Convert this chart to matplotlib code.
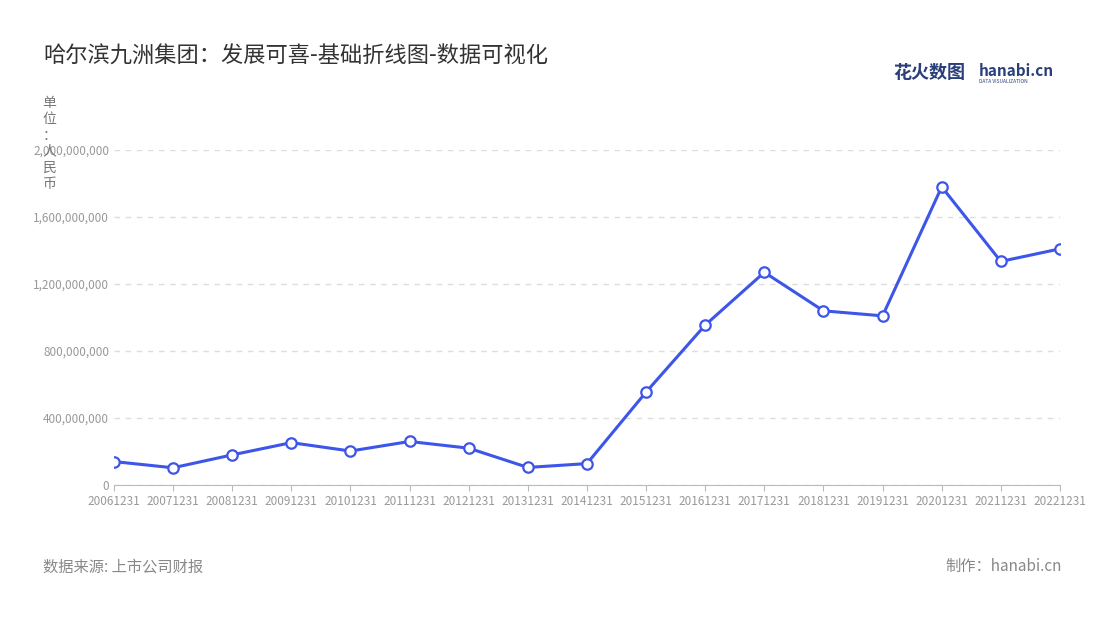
import matplotlib
matplotlib.use("Agg")
import matplotlib.pyplot as plt
from matplotlib.ticker import FuncFormatter

plt.rcParams['font.family'] = ['Noto Sans CJK SC', 'DejaVu Sans']

years = ["20061231","20071231","20081231","20091231","20101231","20111231","20121231",
         "20131231","20141231","20151231","20161231","20171231","20181231","20191231",
         "20201231","20211231","20221231"]
values = [140e6,103e6,180e6,253e6,203e6,260e6,220e6,105e6,128e6,555e6,955e6,1270e6,
          1040e6,1010e6,1780e6,1335e6,1410e6]
yticks = [0, 400e6, 800e6, 1200e6, 1600e6, 2000e6]

fig = plt.figure(figsize=(11, 6.2), dpi=100)
ax = fig.add_axes([0.1036, 0.2177, 0.86, 0.5403])
x = list(range(len(years)))
ax.plot(x, values, color='#3d55e8', lw=2.2, marker='o', ms=7.5,
        mfc='white', mec='#3d55e8', mew=1.6, zorder=3)
ax.set_xlim(0, len(years)-1)
ax.set_ylim(0, 2000e6)
ax.set_yticks(yticks)
ax.yaxis.set_major_formatter(FuncFormatter(lambda v, p: f"{int(v):,}"))
ax.set_xticks(x)
ax.set_xticklabels(years)
ax.tick_params(axis='both', labelsize=8.5, colors='#999999', length=0)
ax.tick_params(axis='x', length=4, color='#bbbbbb')
ax.grid(axis='y', color='#dddddd', ls=(0, (4, 4)), lw=1)
for s in ['top', 'right', 'left']:
    ax.spines[s].set_visible(False)
ax.spines['bottom'].set_color('#bbbbbb')

fig.text(0.039, 0.91, "哈尔滨九洲集团：发展可喜-基础折线图-数据可视化", fontsize=16, color='#333333', va='center')
fig.text(0.045, 0.845, "单\n位\n：\n人\n民\n币", fontsize=10, color='#777777', va='top', ha='center', linespacing=1.2)
fig.text(0.039, 0.086, "数据来源: 上市公司财报", fontsize=11, color='#888888', va='center')
fig.text(0.965, 0.086, "制作：hanabi.cn", fontsize=11, color='#888888', va='center', ha='right')
fig.text(0.812, 0.883, "花火数图", fontsize=13, color='#2a3f7a', va='center', fontweight='bold')
fig.text(0.89, 0.886, "hanabi.cn", fontsize=11, color='#2a3f7a', va='center', fontweight='bold')
fig.text(0.89, 0.868, "DATA VISUALIZATION", fontsize=3.5, color='#2a3f7a', va='center')

fig.savefig("out.png", dpi=100)
